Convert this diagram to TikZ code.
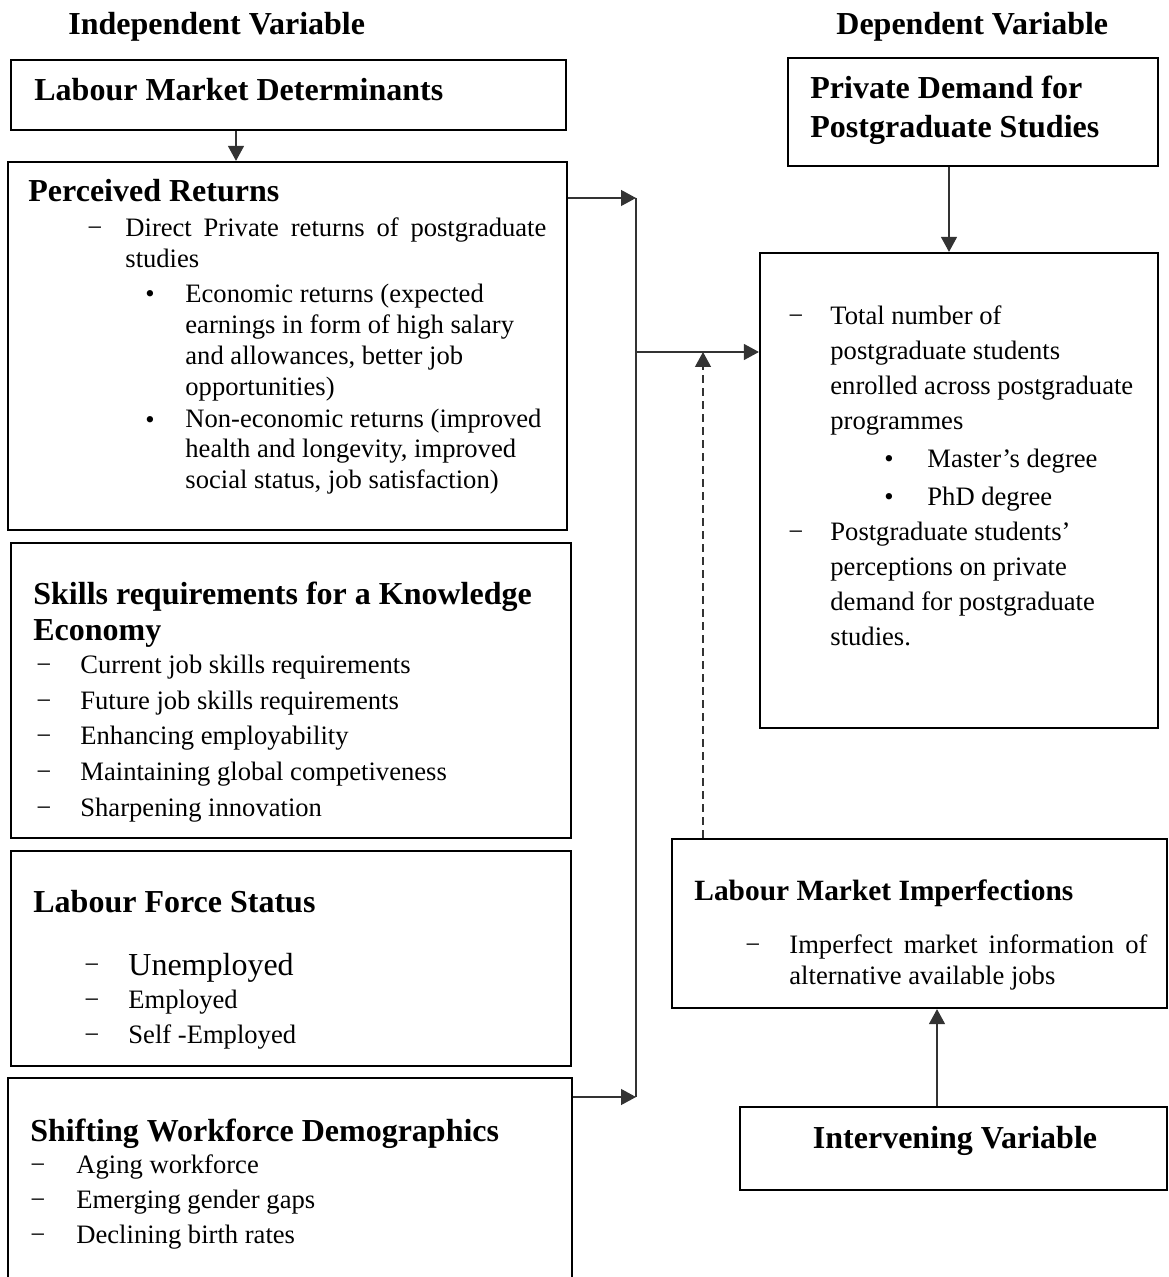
\documentclass[tikz,border=0pt]{standalone}
\usepackage{fontspec}
\setmainfont{Liberation Serif}
\usetikzlibrary{arrows.meta}
\usetikzlibrary{positioning}
\usetikzlibrary{fit}

\tikzset{
  frame/.style={draw, line width=1.1pt, inner sep=0pt},
  hdr/.style={anchor=base west, inner sep=0pt, font=\fontsize{16}{19}\selectfont\bfseries},
  subhdr/.style={anchor=base west, inner sep=0pt, font=\fontsize{14.7}{17}\selectfont\bfseries},
  txt/.style={anchor=base west, inner sep=0pt, font=\fontsize{13.3}{15.5}\selectfont},
  bigtxt/.style={anchor=base west, inner sep=0pt, font=\fontsize{16}{19}\selectfont},
  conn/.style={line width=0.6pt, draw=black!80},
  link/.style={conn, -{Triangle[length=7.5pt,width=8pt]}},
}

\begin{document}
\begin{tikzpicture}[x=0.5pt, y=-0.5pt]
\useasboundingbox (0,0) rectangle (1168,1277);

% column titles
\node[hdr] (indep) at (68,35) {Independent Variable};
\node[hdr] (dep) at (836,35) {Dependent Variable};

% independent variables
\node[frame, fit={(11,60) (566,130)}] (lmd) {};
\node[hdr] (lmd-t) at (34,101) {Labour Market Determinants};

\node[frame, fit={(8,162) (567,530)}] (pr) {};
\node[hdr] (pr-t) at (28,202) {Perceived Returns};
\node[txt] (pr-d) at (87,237) {−};
\node[txt] (pr-1) at (125,237) {\makebox[210.5pt][s]{Direct Private returns of postgraduate}};
\node[txt] (pr-2) at (125,268) {studies};
\node[txt] (pr-b1) at (145,303) {•};
\node[txt] (pr-b2) at (145,429) {•};
\foreach \t [count=\i] in {Economic returns (expected, earnings in form of high salary,
    and allowances{,} better job, opportunities)}
  \node[txt] (pr-e\i) at (185,272+31*\i) {\t};
\foreach \t [count=\i] in {Non-economic returns (improved, health and longevity{,} improved,
    social status{,} job satisfaction)}
  \node[txt] (pr-n\i) at (185,398+30*\i) {\t};

\node[frame, fit={(11,543) (571,838)}] (sk) {};
\node[hdr] (sk-t1) at (33,604) {Skills requirements for a Knowledge};
\node[hdr] (sk-t2) at (33,640) {Economy};
\foreach \t [count=\i] in {Current job skills requirements, Future job skills requirements,
    Enhancing employability, Maintaining global competiveness, Sharpening innovation}{
  \node[txt] (sk-d\i) at (36,637.5+35.75*\i) {−};
  \node[txt] (sk-\i) at (80,637.5+35.75*\i) {\t};
}

\node[frame, fit={(11,851) (571,1066)}] (lfs) {};
\node[hdr] (lfs-t) at (33,912) {Labour Force Status};
\node[txt] (lfs-d1) at (84,973) {−};
\node[bigtxt] (lfs-1) at (128,975) {Unemployed};
\foreach \t [count=\i] in {Employed, Self -Employed}{
  \node[txt] (lfs-d\i) at (84,973+35*\i) {−};
  \node[txt] (lfs-e\i) at (128,973+35*\i) {\t};
}

\node[frame, fit={(8,1078) (572,1290)}] (swd) {};
\node[hdr] (swd-t) at (30,1141) {Shifting Workforce Demographics};
\foreach \t [count=\i] in {Aging workforce, Emerging gender gaps, Declining birth rates}{
  \node[txt] (swd-d\i) at (30,1138+35*\i) {−};
  \node[txt] (swd-\i) at (76,1138+35*\i) {\t};
}

% dependent variable
\node[frame, fit={(788,58) (1158,166)}] (pd) {};
\node[hdr] (pd-1) at (810,99) {Private Demand for};
\node[hdr] (pd-2) at (810,138) {Postgraduate Studies};

\node[frame, fit={(760,253) (1158,728)}] (dv) {};
\foreach \t [count=\i] in {Total number of, postgraduate students,
    enrolled across postgraduate, programmes}
  \node[txt] (dv-a\i) at (830,290+35*\i) {\t};
\node[txt] (dv-d1) at (788,325) {−};
\node[txt] (dv-b1) at (884,467) {•};
\node[txt] (dv-m) at (927,467) {Master’s degree};
\node[txt] (dv-b2) at (884,505) {•};
\node[txt] (dv-p) at (927,505) {PhD degree};
\node[txt] (dv-d2) at (788,540) {−};
\foreach \t [count=\i] in {Postgraduate students’, perceptions on private,
    demand for postgraduate, studies.}
  \node[txt] (dv-c\i) at (830,505+35*\i) {\t};

% intervening variable
\node[frame, fit={(672,839) (1167,1008)}] (lmi) {};
\node[subhdr] (lmi-t) at (694,900) {Labour Market Imperfections};
\node[txt] (lmi-d) at (745,953) {−};
\node[txt] (lmi-1) at (789,953) {\makebox[179pt][s]{Imperfect market information of}};
\node[txt] (lmi-2) at (789,984) {alternative available jobs};

\node[frame, fit={(740,1107) (1167,1190)}] (iv) {};
\node[hdr, anchor=base] (iv-t) at (955,1148) {Intervening Variable};

% connectors
\coordinate (x1) at (236,0);
\coordinate (x2) at (949,0);
\coordinate (x3) at (703,0);
\coordinate (x4) at (937,0);
\coordinate (bustop) at (636,198);
\coordinate (busmid) at (636,352);
\coordinate (busbot) at (636,1097);

\draw[link] (lmd.south -| x1) -- (pr.north -| x1);
\draw[link] (pr.east |- bustop) -- (bustop);
\draw[link] (swd.east |- busbot) -- (busbot);
\draw[conn] (bustop) -- (busbot);
\draw[link] (busmid) -- (dv.west |- busmid);
\draw[link] (pd.south -| x2) -- (dv.north -| x2);
\draw[link, dash pattern=on 4pt off 2.5pt] (lmi.north -| x3) -- (busmid -| x3);
\draw[link] (iv.north -| x4) -- (lmi.south -| x4);
\end{tikzpicture}
\end{document}
